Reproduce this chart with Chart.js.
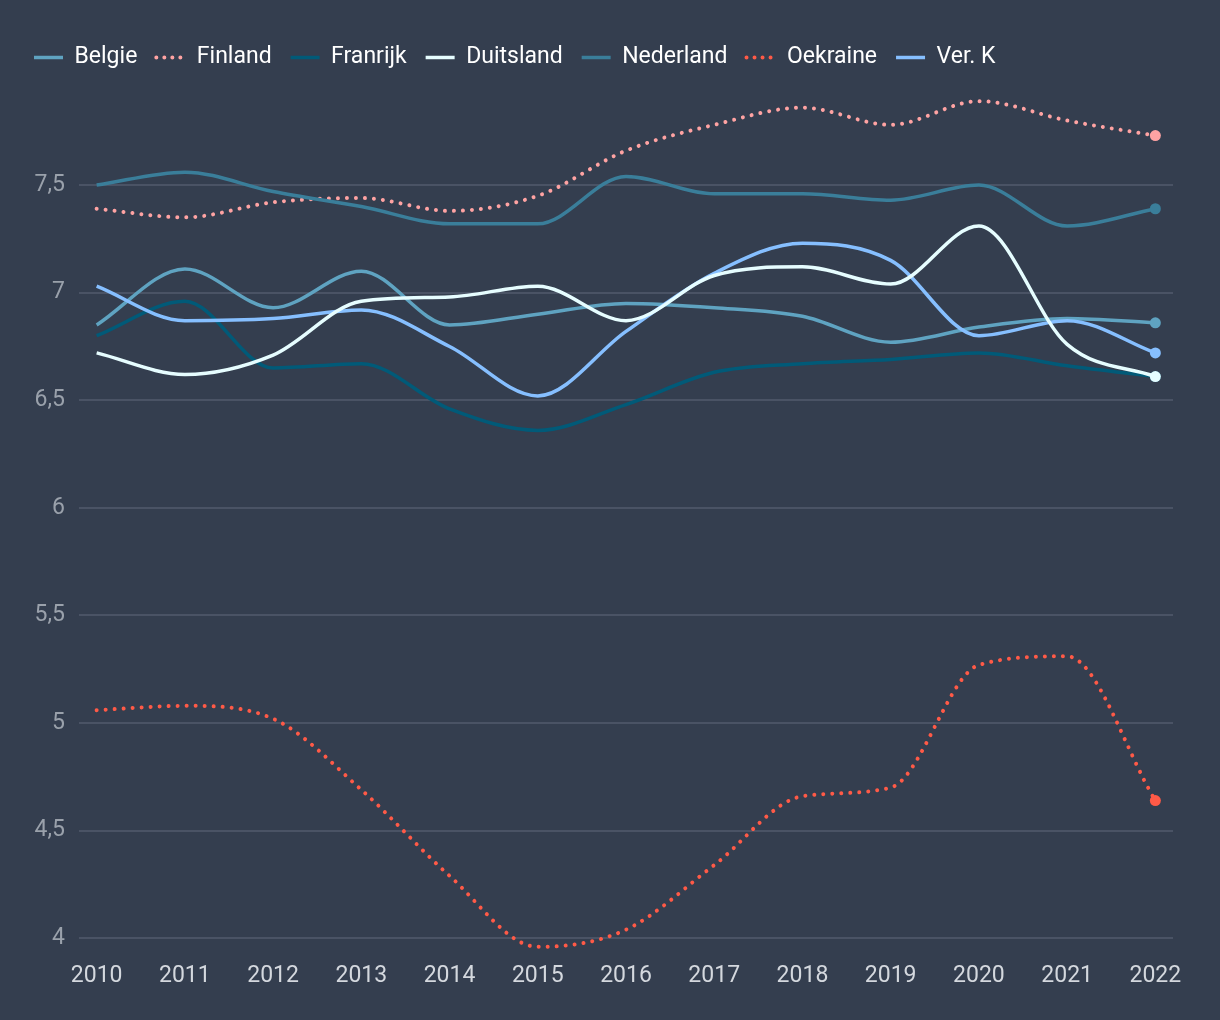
<!DOCTYPE html>
<html>
<head>
<meta charset="utf-8">
<script src="https://cdn.jsdelivr.net/npm/chart.js@4/dist/chart.umd.min.js"></script>
<style>
  html, body { margin: 0; padding: 0; background: #343e4f; }
  #wrap { width: 1220px; height: 1020px; }
</style>
</head>
<body>
<div id="wrap"><canvas id="c" width="1220" height="1020"></canvas></div>
<script>
const years = [2010, 2011, 2012, 2013, 2014, 2015, 2016, 2017, 2018, 2019, 2020, 2021, 2022];
const seriesNames = ["Belgie", "Finland", "Franrijk", "Duitsland", "Nederland", "Oekraine", "Ver. K"];
const belgie    = [6.85, 7.11, 6.93, 7.10, 6.85, 6.90, 6.95, 6.93, 6.89, 6.77, 6.84, 6.88, 6.86];
const finland   = [7.39, 7.35, 7.42, 7.44, 7.38, 7.45, 7.66, 7.78, 7.86, 7.78, 7.89, 7.80, 7.73];
const franrijk  = [6.80, 6.96, 6.65, 6.67, 6.46, 6.36, 6.48, 6.63, 6.67, 6.69, 6.72, 6.66, 6.61];
const duitsland = [6.72, 6.62, 6.71, 6.96, 6.98, 7.03, 6.87, 7.08, 7.12, 7.04, 7.31, 6.76, 6.61];
const nederland = [7.50, 7.56, 7.47, 7.40, 7.32, 7.32, 7.54, 7.46, 7.46, 7.43, 7.50, 7.31, 7.39];
const oekraine  = [5.06, 5.08, 5.02, 4.69, 4.29, 3.96, 4.04, 4.34, 4.66, 4.70, 5.27, 5.31, 4.64];
const verK      = [7.03, 6.87, 6.88, 6.92, 6.75, 6.52, 6.82, 7.09, 7.23, 7.15, 6.80, 6.87, 6.72];
const yTicks = [4, 4.5, 5, 5.5, 6, 6.5, 7, 7.5];

const colors = ["#5fa3c1", "#ffa3a3", "#015a78", "#e6fdff", "#3a7e9a", "#ff5a47", "#86bfff"];
const dotted = [false, true, false, false, false, true, false];
const drawOrder = [2, 5, 6, 0, 4, 3, 1];
const values = [belgie, finland, franrijk, duitsland, nederland, oekraine, verK];

const datasets = seriesNames.map((name, i) => ({
  label: name,
  data: years.map((y, j) => ({ x: y, y: values[i][j] })),
  borderColor: colors[i],
  backgroundColor: colors[i],
  borderWidth: dotted[i] ? 4 : 3.5,
  borderDash: dotted[i] ? [0.01, 9] : [],
  borderCapStyle: dotted[i] ? 'round' : 'butt',
  cubicInterpolationMode: 'monotone',
  order: drawOrder[i],
  pointRadius: years.map((y, j) => j === years.length - 1 ? 5.5 : 0),
  pointHoverRadius: 0,
  pointBorderWidth: 0,
  pointBackgroundColor: colors[i],
  fill: false
}));

const legendSpacer = {
  id: 'legendSpacer',
  beforeInit(chart) {
    const origFit = chart.legend.fit;
    chart.legend.fit = function () {
      origFit.bind(chart.legend)();
      this.height += 20;
    };
  }
};

new Chart(document.getElementById('c'), {
  type: 'line',
  data: { datasets },
  plugins: [legendSpacer],
  options: {
    responsive: false,
    animation: false,
    events: [],
    layout: { padding: { top: 27, left: 15, right: 47, bottom: 0 } },
    plugins: {
      tooltip: { enabled: false },
      legend: {
        position: 'top',
        align: 'start',
        labels: {
          usePointStyle: true,
          pointStyle: 'line',
          pointStyleWidth: 29,
          boxHeight: 23,
          padding: 19,
          color: '#ffffff',
          font: { family: 'Roboto', size: 23 },
          sort: (a, b) => a.datasetIndex - b.datasetIndex,
          generateLabels: (chart) => {
            const items = Chart.defaults.plugins.legend.labels.generateLabels(chart);
            items.forEach(it => {
              const i = it.datasetIndex;
              it.lineWidth = dotted[i] ? 4 : 3.5;
              it.strokeStyle = colors[i];
              it.fillStyle = colors[i];
              it.lineDash = dotted[i] ? [0.01, 8] : [];
              it.lineCap = dotted[i] ? 'round' : 'butt';
              it.pointStyle = 'line';
            });
            return items;
          }
        }
      }
    },
    scales: {
      x: {
        type: 'linear',
        min: 2009.8,
        max: 2022.2,
        afterBuildTicks: (s) => { s.ticks = years.map(v => ({ value: v })); },
        afterFit: (s) => { s.height = 71; },
        ticks: {
          color: '#d4d8de',
          padding: 5,
          maxRotation: 0,
          autoSkip: false,
          font: { family: 'Roboto', size: 23 },
          callback: (v) => String(v)
        },
        grid: { display: false },
        border: { display: false }
      },
      y: {
        min: 3.95,
        max: 7.9,
        afterBuildTicks: (s) => { s.ticks = yTicks.map(v => ({ value: v })); },
        afterFit: (s) => { s.width = 64; },
        ticks: {
          color: '#9aa1ab',
          padding: 14,
          font: { family: 'Roboto', size: 23 },
          callback: (v) => String(v).replace('.', ',')
        },
        grid: { color: '#4a5365', lineWidth: 2, drawTicks: false },
        border: { display: false }
      }
    }
  }
});
</script>
</body>
</html>
